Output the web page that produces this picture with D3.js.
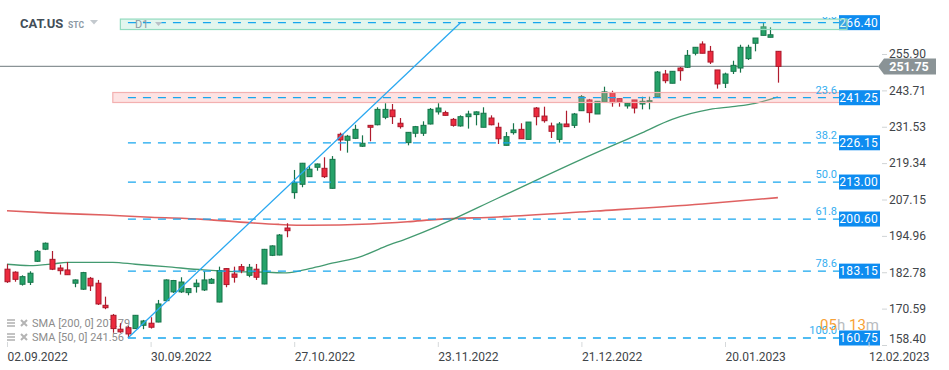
<!DOCTYPE html>
<html>
<head>
<meta charset="utf-8">
<script src="https://cdn.jsdelivr.net/npm/d3@7"></script>
<style>
  body { margin: 0; background: #fff; }
  svg { display: block; font-family: Roboto, "Noto Sans", sans-serif; }
</style>
</head>
<body>
<div id="chart"></div>
<script>
const width = 949;
const height = 370;

// daily candles, 02.09.2022 -> 31.01.2023
const opens = [183.8,182.8,178.75,179.4,186.45,190.5,187.1,184.2,183.55,179.1,177.1,180.75,179.1,171.7,168.35,163.7,164.2,163.9,165.0,165.7,
  166.1,173.25,176.2,176.2,175.95,177.95,176.85,179.1,172.8,184.0,182.2,184.65,181.75,183.8,178.85,188.45,188.55,197.6,209.45,212.25,
  214.8,217.95,217.6,210.9,229.0,227.0,227.65,225.0,232.0,232.2,234.7,237.15,232.7,226.2,229.35,229.35,232.45,236.5,236.25,234.0,
  231.8,234.9,235.6,231.35,234.45,231.35,225.3,229.55,230.65,227.3,237.8,235.1,231.8,227.3,232.45,232.0,236.9,240.5,235.8,239.8,
  242.95,240.95,238.5,240.5,239.15,239.8,241.6,249.2,246.1,251.2,251.45,256.15,259.25,256.8,250.55,246.1,250.1,251.2,254.35,259.5,
  262.15,261.5,256.8];
const highs = [185.5,183.1,181.75,183.1,190.2,192.75,189.9,185.3,186.2,180.4,182.9,181.2,180.2,174.6,168.8,165.7,164.8,168.45,166.8,167.7,
  173.5,180.4,180.2,181.1,177.5,180.4,183.1,180.85,184.65,184.2,184.65,185.55,185.55,185.55,190.6,191.8,195.6,199.2,217.05,219.4,
  218.6,219.2,221.3,221.7,229.55,228.8,232.2,228.65,232.1,238.05,239.4,239.15,234.45,229.75,231.8,233.35,237.8,239.4,236.9,234.45,
  235.35,236.9,236.7,238.05,235.35,232.9,229.75,232.7,232.7,233.1,238.15,238.25,232.9,233.1,236.9,236.15,242.15,240.85,240.15,244.95,
  243.6,241.15,239.5,240.5,241.6,241.6,250.2,250.55,250.2,251.55,257.25,258.25,260.15,258.6,250.55,249.65,253.65,259.0,259.0,261.25,
  266.4,264.85,256.9];
const lows = [179.2,179.6,178.3,178.5,186.2,190.2,183.5,182.0,181.9,177.75,176.85,176.5,171.8,170.4,162.5,162.5,160.75,163.8,163.7,163.9,
  166.0,173.15,175.85,175.85,175.05,175.95,176.5,178.85,172.7,177.75,179.3,182.45,181.1,180.2,178.75,188.2,188.45,194.5,207.4,211.25,
  214.7,216.8,214.35,210.8,223.5,222.85,227.4,224.75,226.65,232.0,234.05,232.45,230.9,225.3,228.0,228.45,232.3,235.6,235.3,231.55,
  231.55,230.9,232.0,231.35,232.0,225.75,225.25,228.9,227.5,227.3,232.0,232.9,227.75,226.2,231.45,231.1,236.8,232.9,235.8,239.8,
  238.25,238.25,237.6,236.0,237.35,237.35,241.5,246.1,246.1,246.95,251.2,255.45,256.15,252.55,244.3,244.5,249.2,249.65,253.9,256.8,
  262.15,261.5,246.3];
const closes = [179.6,180.4,181.3,182.45,189.8,192.5,183.8,183.3,181.95,180.2,182.65,178.2,172.15,170.9,163.9,162.8,162.1,168.35,166.45,164.35,
  172.15,180.2,180.0,179.5,177.3,179.1,180.2,180.4,183.3,178.65,181.1,183.3,184.45,181.1,190.45,191.6,195.25,196.7,212.8,219.3,
  217.3,219.05,214.8,220.6,227.1,228.35,230.65,226.0,231.35,237.35,237.35,234.9,231.55,229.65,231.55,232.0,237.35,237.8,235.35,232.0,
  234.9,235.8,236.5,236.05,232.2,227.5,228.2,230.45,227.5,233.1,234.9,233.55,230.0,232.45,231.55,235.8,241.6,236.25,240.05,243.2,
  239.6,239.8,239.4,237.8,240.05,240.25,249.85,246.95,250.1,250.3,255.45,258.15,256.15,253.2,245.85,249.2,252.1,258.15,258.15,261.25,
  265.0,262.35,251.75];

// moving averages (bar index, value)
const sma200Idx = [0, 6, 13, 19, 26, 32, 36, 40, 48, 53, 57, 65, 78, 92, 102];
const sma200Val = [203.4, 202.6, 201.95, 201.2, 200.5, 199.4, 198.8, 198.5, 198.95, 199.7, 200.5, 201.3, 203.3, 205.65, 207.79];
const sma50Idx = [0, 3, 6, 8, 14, 17, 21, 26, 30, 34, 37, 40, 43, 47, 50, 53, 57, 65, 76, 84, 88, 93, 96, 99, 102];
const sma50Val = [185.45, 185.0, 185.55, 186.1, 186.1, 185.45, 184.65, 183.55, 183.0, 182.8, 182.55, 184.0, 185.8, 188.2, 191.35,
  194.15, 198.25, 207.65, 220.6, 229.5, 234.0, 237.35, 238.25, 239.35, 241.56];

// fibonacci retracement
const fibPct = ["0.0", "23.6", "38.2", "50.0", "61.8", "78.6", "100.0"];
const fibPrice = [266.40, 241.25, 226.15, 213.00, 200.60, 183.15, 160.75];
const fibFrom = [16, 160.75];
const fibTo = [60, 266.40];

// highlighted zones: start bar, low, high
const zoneStart = [15, 14];
const zoneLow = [264.1, 239.65];
const zoneHigh = [267.6, 243.0];

const lastPrice = 251.75;
const yTicks = [158.40, 170.59, 182.78, 194.96, 207.15, 219.34, 231.53, 243.71, 255.90];
const xTickIdx = [0, 19, 38, 57, 76, 95, 114];
const xTickLabels = ["02.09.2022", "30.09.2022", "27.10.2022", "23.11.2022", "21.12.2022", "20.01.2023", "12.02.2023"];

const candles = closes.map((c, i) => ({ i: i, o: opens[i], h: highs[i], l: lows[i], c: c }));

const xScale = d3.scaleLinear().domain([0, 114]).range([7, 868.6]);
const yScale = d3.scaleLinear().domain([158.40, 255.90]).range([345, 54]);

const labelX = 839;   // left edge of the price boxes
const axisX = 882;

const svg = d3.select('#chart').append('svg')
    .attr('width', width)
    .attr('height', height);

svg.append('rect').attr('width', width).attr('height', height).attr('fill', '#fff');

// legend (sits under the candles)
const legend = svg.append('g').attr('fill', '#8c8c8c').style('font-size', '11px');
["SMA  [200,  0]  207.79", "SMA  [50,  0]  241.56"].forEach((t, k) => {
    const ly = 323 + k * 14;
    const ic = legend.append('g').attr('stroke', '#b4b4b4').attr('stroke-width', 1.6);
    [-3, 0, 3].forEach(o => ic.append('line').attr('x1', 7).attr('x2', 15).attr('y1', ly + o).attr('y2', ly + o));
    ic.append('path').attr('d', `M21,${ly - 3}L27,${ly + 3}M27,${ly - 3}L21,${ly + 3}`).attr('stroke-width', 2);
    legend.append('text').attr('x', 32).attr('y', ly + 4).text(t);
});

// last price line
svg.append('line')
    .attr('x1', 0).attr('x2', axisX - 4)
    .attr('y1', yScale(lastPrice)).attr('y2', yScale(lastPrice))
    .attr('stroke', '#8a9396').attr('stroke-width', 1.3);

// moving averages
const smaLine = d3.line()
    .x(d => xScale(d[0]))
    .y(d => yScale(d[1]))
    .curve(d3.curveMonotoneX);
svg.append('path')
    .datum(d3.zip(sma200Idx, sma200Val))
    .attr('d', smaLine)
    .attr('fill', 'none').attr('stroke', '#d94545').attr('stroke-width', 1.6).attr('opacity', 0.85);
svg.append('path')
    .datum(d3.zip(sma50Idx, sma50Val))
    .attr('d', smaLine)
    .attr('fill', 'none').attr('stroke', '#2f8f60').attr('stroke-width', 1.3).attr('opacity', 0.9);

// candles
const up = d => d.c >= d.o;
const g = svg.append('g');
g.selectAll('line.wick')
    .data(candles)
    .enter()
    .append('line')
    .attr('class', 'wick')
    .attr('x1', d => Math.round(xScale(d.i)) + 0.5)
    .attr('x2', d => Math.round(xScale(d.i)) + 0.5)
    .attr('y1', d => yScale(d.h))
    .attr('y2', d => yScale(d.l))
    .attr('stroke', d => up(d) ? '#17744a' : '#b01c2e')
    .attr('stroke-width', 1.2);
g.selectAll('rect.body')
    .data(candles)
    .enter()
    .append('rect')
    .attr('class', 'body')
    .attr('x', d => Math.round(xScale(d.i)) - 2)
    .attr('y', d => yScale(Math.max(d.o, d.c)))
    .attr('width', 5)
    .attr('height', d => Math.max(1, Math.abs(yScale(d.o) - yScale(d.c))))
    .attr('fill', d => up(d) ? '#26a269' : '#ec2a3e')
    .attr('stroke', d => up(d) ? '#17744a' : '#a8192b')
    .attr('stroke-width', 1);

// price boxes for fib levels (the top one sits below its zone)
const boxes = svg.append('g');
fibPrice.forEach((p, k) => {
    const by = yScale(p);
    const b = boxes.append('g');
    b.append('rect').attr('x', labelX).attr('y', by - 7.5).attr('width', 41).attr('height', 15).attr('fill', '#0e8cf0');
    b.append('text').attr('x', labelX + 39).attr('y', by + 4.2).attr('text-anchor', 'end')
        .attr('fill', '#fff').style('font-size', '12px').style('letter-spacing', '0.3px').text(p.toFixed(2));
});

// zones
const zoneColors = [['#9fe0c6', '#92dbbf'], ['#f7a1a1', '#f3b0b0']];
zoneStart.forEach((s, k) => {
    svg.append('rect')
        .attr('x', xScale(s))
        .attr('y', yScale(zoneHigh[k]))
        .attr('width', labelX + 8 - xScale(s))
        .attr('height', yScale(zoneLow[k]) - yScale(zoneHigh[k]))
        .attr('fill', zoneColors[k][0]).attr('fill-opacity', 0.3)
        .attr('stroke', zoneColors[k][1]).attr('stroke-width', 1.2);
});
// keep the 241.25 box above its zone
boxes.selectAll('g').filter((d, k) => k > 0).raise();
boxes.raise();
boxes.select('g').lower();
svg.selectAll('rect').filter(function() { return +d3.select(this).attr('fill-opacity') === 0.3 && d3.select(this).attr('fill') === '#9fe0c6'; }).raise();

// fib dashed levels
const fib = svg.append('g');
fibPrice.forEach((p, k) => {
    fib.append('line')
        .attr('x1', xScale(fibFrom[0])).attr('x2', labelX)
        .attr('y1', yScale(p)).attr('y2', yScale(p))
        .attr('stroke', '#17a6ee').attr('stroke-width', 1.3)
        .attr('stroke-dasharray', '8,7');
});
svg.append('defs').append('clipPath').attr('id', 'pctclip')
    .append('rect').attr('x', 0).attr('y', 17).attr('width', width).attr('height', height);
const pct = svg.append('g').attr('clip-path', 'url(#pctclip)');
fibPct.forEach((t, k) => {
    pct.append('text')
        .attr('x', labelX - 2).attr('y', yScale(fibPrice[k]) - 4)
        .attr('text-anchor', 'end')
        .attr('fill', '#35aef0').style('font-size', '11px')
        .text(t);
});
svg.append('line')
    .attr('x1', xScale(fibFrom[0])).attr('y1', yScale(fibFrom[1]))
    .attr('x2', xScale(fibTo[0])).attr('y2', yScale(fibTo[1]))
    .attr('stroke', '#2aa8f0').attr('stroke-width', 1.3);

// timeframe tag on the fib zone
svg.append('text').attr('x', 135).attr('y', 28).attr('fill', '#8d9aa4').style('font-size', '11px').text('D1');
svg.append('path').attr('d', 'M155,22L162,22L158.5,26Z').attr('fill', '#b9c1c7');

// title
svg.append('text').attr('x', 20).attr('y', 28).attr('fill', '#434e58')
    .style('font-size', '13px').style('font-weight', 'bold').text('CAT.US');
svg.append('text').attr('x', 68).attr('y', 27.5).attr('fill', '#8c99a5')
    .style('font-size', '8.5px').style('font-weight', 'bold').text('STC');
svg.append('path').attr('d', 'M90,20L98,20L94,24.5Z').attr('fill', '#c3c9ce');

// y axis
const yAxis = d3.axisRight(yScale).tickValues(yTicks).tickFormat(d3.format('.2f')).tickSize(5).tickPadding(2);
const yg = svg.append('g').attr('transform', `translate(${axisX},0)`).call(yAxis);
yg.select('.domain').remove();
yg.selectAll('line').attr('stroke', '#d0d4d6');
yg.selectAll('text').attr('fill', '#3f4549').style('font-size', '12px').style('font-family', 'Roboto, sans-serif');
yg.selectAll('.tick').filter(d => d === yTicks[0]).select('text').attr('dy', '-0.2em');

// last price tag
const ly = yScale(lastPrice);
svg.append('path')
    .attr('d', `M878,${ly}L884,${ly - 8}L936,${ly - 8}L936,${ly + 8}L884,${ly + 8}Z`)
    .attr('fill', '#8a9396');
svg.append('text').attr('x', 909).attr('y', ly + 4.5).attr('text-anchor', 'middle')
    .attr('fill', '#fff').style('font-size', '12.5px').style('font-weight', 'bold').text(lastPrice.toFixed(2));

// x axis
const xAxis = d3.axisBottom(xScale).tickValues(xTickIdx).tickFormat((d, k) => xTickLabels[k]).tickSize(5).tickPadding(5);
const xg = svg.append('g').attr('transform', 'translate(0,342)').call(xAxis);
xg.select('.domain').remove();
xg.selectAll('line').attr('stroke', '#d6d9db');
xg.selectAll('text').attr('text-anchor', 'start').attr('fill', '#3f4549')
    .style('font-size', '12px').style('font-family', 'Roboto, sans-serif');

// countdown
const cd = svg.append('text').attr('x', 879).attr('y', 330).attr('text-anchor', 'end').style('font-size', '15px');
cd.append('tspan').attr('fill', '#f7a238').text('05');
cd.append('tspan').attr('fill', '#b8bcbf').text('h ');
cd.append('tspan').attr('fill', '#f7a238').text('13');
cd.append('tspan').attr('fill', '#b8bcbf').text('m');
</script>
</body>
</html>
